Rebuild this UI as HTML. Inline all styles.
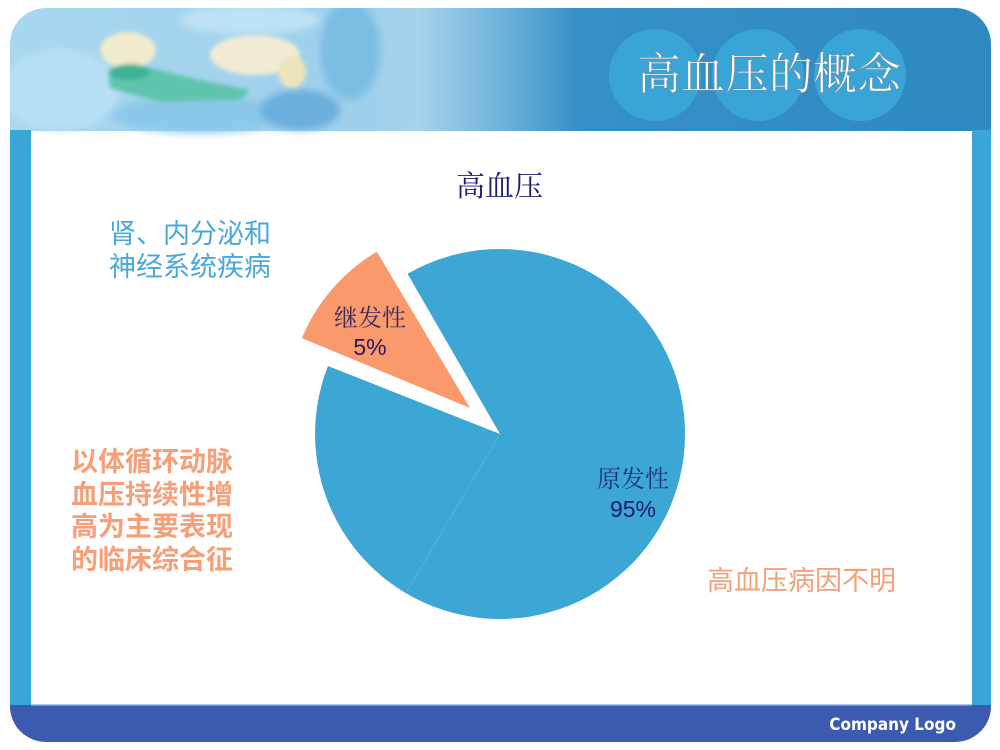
<!DOCTYPE html>
<html><head><meta charset="utf-8">
<style>
html,body{margin:0;padding:0;background:#fff;}
svg{display:block;}
</style></head>
<body>
<svg width="1000" height="750" viewBox="0 0 1000 750" xmlns="http://www.w3.org/2000/svg">
<defs>
  <clipPath id="frame"><rect x="10" y="8" width="981" height="734" rx="36" ry="36"/></clipPath>
  <linearGradient id="hdr" x1="0" y1="0" x2="1" y2="0">
    <stop offset="0" stop-color="#a9d7ef"/>
    <stop offset="0.36" stop-color="#9fd0ec"/>
    <stop offset="0.42" stop-color="#a6d2ea"/>
    <stop offset="0.50" stop-color="#6fb3dc"/>
    <stop offset="0.58" stop-color="#3590c6"/>
    <stop offset="1" stop-color="#2f89c1"/>
  </linearGradient>
  <filter id="bl" x="-20%" y="-20%" width="140%" height="140%"><feGaussianBlur stdDeviation="4"/></filter>
  <filter id="bl2" x="-20%" y="-20%" width="140%" height="140%"><feGaussianBlur stdDeviation="2"/></filter>
</defs>
<g clip-path="url(#frame)">
  <rect x="0" y="0" width="1000" height="750" fill="#fff"/>
  <rect x="0" y="0" width="1000" height="131" fill="url(#hdr)"/>
  <g filter="url(#bl)">
    <ellipse cx="60" cy="90" rx="60" ry="40" fill="#b8e0f4"/>
    <ellipse cx="350" cy="50" rx="30" ry="50" fill="#7cbde4"/>
    <ellipse cx="200" cy="115" rx="90" ry="18" fill="#8cc8ea"/>
    <ellipse cx="300" cy="110" rx="40" ry="20" fill="#6aaedc"/>
    <ellipse cx="250" cy="20" rx="70" ry="14" fill="#bfe3f4"/>
  </g>
  <g filter="url(#bl2)">
    <path d="M108,70 L150,68 L200,80 L250,90 L240,100 L160,102 L110,88 Z" fill="#5fc4ad"/>
    <ellipse cx="128" cy="50" rx="28" ry="18" fill="#f1ebcd"/>
    <ellipse cx="255" cy="55" rx="45" ry="20" fill="#f2ecd4"/>
    <ellipse cx="292" cy="72" rx="14" ry="16" fill="#ede4bb"/>
    <ellipse cx="130" cy="72" rx="20" ry="8" fill="#3db394"/>
  </g>
  <circle cx="655" cy="75" r="46" fill="#39a5d6"/>
  <circle cx="758" cy="75" r="46" fill="#39a5d6"/>
  <circle cx="860" cy="75" r="46" fill="#39a5d6"/>
  <rect x="0" y="130" width="31" height="600" fill="#3aa6d6"/>
  <rect x="972" y="130" width="40" height="600" fill="#3aa6d6"/>
  <rect x="0" y="705" width="1000" height="50" fill="#3c5ab0"/>
  <rect x="31" y="704" width="941" height="1.5" fill="#a9c6e6"/>
</g>
<text x="637" y="89" font-family="'Liberation Serif','Noto Serif CJK SC',serif" font-size="44" fill="#fff" stroke="#6a8aa0" stroke-width="0.6">高血压的概念</text>
<text x="956" y="730" text-anchor="end" font-family="'DejaVu Sans','Liberation Sans',sans-serif" font-weight="bold" font-size="17" fill="#fff" transform="translate(956 0) scale(0.9 1) translate(-956 0)">Company Logo</text>

<text x="456" y="196" font-family="'Liberation Serif','Noto Serif CJK SC',serif" font-size="29" fill="#1c1c6c">高血压</text>

<path d="M500,434 L407.5,273.8 A185,185 0 1 1 328,366 Z" fill="#3ca7d4"/>
<line x1="500" y1="434" x2="407" y2="591" stroke="#56b2da" stroke-width="1"/>
<path d="M470,408 L376.8,251.7 A182,182 0 0 0 301.9,338.1 Z" fill="#fa9a6c"/>

<text x="334" y="326" font-family="'Liberation Serif','Noto Serif CJK SC',serif" font-size="24" fill="#3d2a5c">继发性</text>
<text x="370" y="355" text-anchor="middle" font-family="'Liberation Sans',sans-serif" font-size="23" fill="#2a1762">5%</text>
<text x="597" y="487" font-family="'Liberation Serif','Noto Serif CJK SC',serif" font-size="24" fill="#1f3474">原发性</text>
<text x="633" y="517" text-anchor="middle" font-family="'Liberation Sans',sans-serif" font-size="23" fill="#1a1a6e">95%</text>

<g font-family="'Liberation Sans','Noto Sans CJK SC',sans-serif" font-size="27" fill="#49a9d9">
  <text x="109" y="243">肾、内分泌和</text>
  <text x="109" y="276">神经系统疾病</text>
</g>
<g font-family="'Liberation Sans','Noto Sans CJK SC',sans-serif" font-size="27" font-weight="bold" fill="#f6a079">
  <text x="71" y="471">以体循环动脉</text>
  <text x="71" y="504">血压持续性增</text>
  <text x="71" y="536">高为主要表现</text>
  <text x="71" y="569">的临床综合征</text>
</g>
<text x="707" y="590" font-family="'Liberation Sans','Noto Sans CJK SC',sans-serif" font-size="27" fill="#f6a079">高血压病因不明</text>
</svg>
</body></html>
